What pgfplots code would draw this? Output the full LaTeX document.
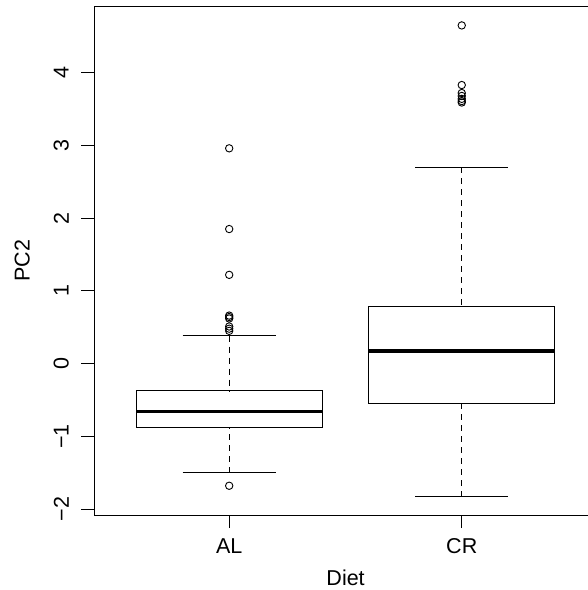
\documentclass[border=0pt]{standalone}
\usepackage{pgfplots}
\pgfplotsset{compat=1.18}
\usepgfplotslibrary{statistics}
\usepackage{fontspec}
\setmainfont{Liberation Sans}
\newcommand\lab{\fontsize{21.5}{25}\selectfont}
\begin{document}
\begin{tikzpicture}
\useasboundingbox (0,0) rectangle (588pt,590pt);
\begin{axis}[
 at={(94.3pt,75pt)}, anchor=south west,
 scale only axis, width=493.7pt, height=509pt,
 xmin=0.42, xmax=2.5428, ymin=-2.082, ymax=4.917,
 axis y line*=left, xtick pos=bottom, ytick pos=left,
 tick align=outside, major tick length=13pt,
 xtick={1,2}, xticklabels={AL,CR},
 ytick={-2,-1,0,1,2,3,4}, yticklabels={−2,−1,0,1,2,3,4},
 tick style={black, line width=0.9pt},
 axis line style={line width=0.9pt},
 xticklabel style={font=\lab, anchor=center, yshift=-18pt},
 yticklabel style={font=\lab, anchor=center, xshift=-20pt, rotate=90},
 every axis x label/.style={at={(axis description cs:0.509,0)}, anchor=center, yshift=-63pt, font=\lab},
 every axis y label/.style={at={(axis description cs:0,0.5)}, anchor=center, xshift=-72pt, rotate=90, font=\lab},
 xlabel={Diet}, ylabel={PC2},
 clip=false,
 boxplot/draw direction=y,
 boxplot/box extend=0.8,
 boxplot/whisker extend=0.4,
 boxplot/every median/.style={line width=3.6pt},
 boxplot/draw/lower whisker/.code={
   \draw[dash pattern=on 6pt off 5pt] (boxplot box cs:\pgfplotsboxplotvalue{lower whisker},0.5) -- (boxplot box cs:\pgfplotsboxplotvalue{lower quartile},0.5);
   \draw (boxplot whisker cs:\pgfplotsboxplotvalue{lower whisker},0) -- (boxplot whisker cs:\pgfplotsboxplotvalue{lower whisker},1);
 },
 boxplot/draw/upper whisker/.code={
   \draw[dash pattern=on 6pt off 5pt] (boxplot box cs:\pgfplotsboxplotvalue{upper whisker},0.5) -- (boxplot box cs:\pgfplotsboxplotvalue{upper quartile},0.5);
   \draw (boxplot whisker cs:\pgfplotsboxplotvalue{upper whisker},0) -- (boxplot whisker cs:\pgfplotsboxplotvalue{upper whisker},1);
 },
]
\addplot[black, line width=0.9pt, mark=o, mark size=3.7pt,
  boxplot prepared={draw position=1, lower whisker=-1.50, lower quartile=-0.876, median=-0.661, upper quartile=-0.373, upper whisker=0.384}]
  coordinates {(0,2.96) (0,1.85) (0,1.22) (0,0.66) (0,0.64) (0,0.62) (0,0.51) (0,0.48) (0,0.45) (0,-1.68)};
\addplot[black, line width=0.9pt, mark=o, mark size=3.7pt,
  boxplot prepared={draw position=2, lower whisker=-1.83, lower quartile=-0.546, median=0.177, upper quartile=0.782, upper whisker=2.70}]
  coordinates {(0,4.65) (0,3.83) (0,3.72) (0,3.68) (0,3.64) (0,3.61) (0,3.59)};
\end{axis}
\end{tikzpicture}
\end{document}
